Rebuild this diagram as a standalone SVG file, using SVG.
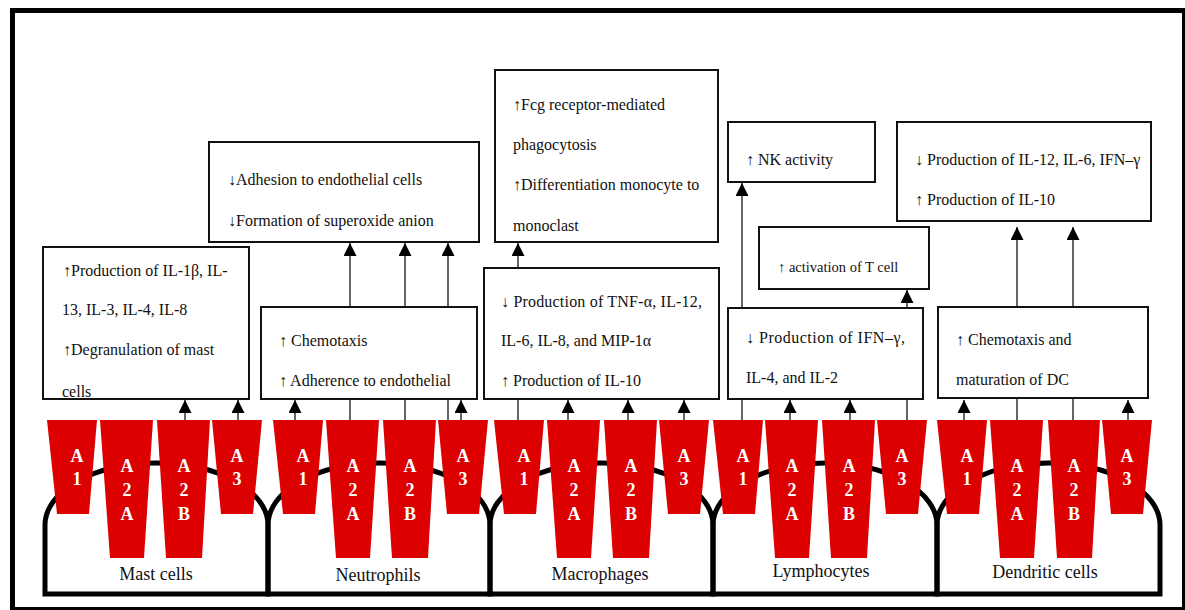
<svg xmlns="http://www.w3.org/2000/svg" width="1185" height="610" viewBox="0 0 1185 610">
<style>
.frame{fill:none;stroke:#000;stroke-width:5}
.box{fill:#fff;stroke:#111;stroke-width:2}
.t{font-family:"Liberation Serif","DejaVu Serif",serif;font-size:16px;fill:#111}
.sm{font-size:14.5px}
.r{fill:#DC0000}
.rl{font-family:"Liberation Serif","DejaVu Serif",serif;font-size:18px;font-weight:bold;fill:#fff;text-anchor:middle}
.cell{fill:none;stroke:#000;stroke-width:5;stroke-linejoin:miter}
.lbl{font-family:"Liberation Serif","DejaVu Serif",serif;font-size:18px;fill:#111;text-anchor:middle}
.c{stroke:#333;stroke-width:1.5;fill:none}
.ca{marker-end:url(#ah)}
</style>
<defs>
<marker id="ah" markerUnits="userSpaceOnUse" markerWidth="14" markerHeight="14" refX="13" refY="6.5" orient="auto"><path d="M0,0 L13,6.5 L0,13 z" fill="#000"/></marker>
</defs>
<rect class="frame" x="12.5" y="10.5" width="1172" height="599"/>

<g id="connectors">
<path class="c ca" d="M185 420 V400"/>
<path class="c ca" d="M238 420 V400"/>
<path class="c ca" d="M295 420 V400"/>
<path class="c ca" d="M350 420 V399 M350 307 V243"/>
<path class="c ca" d="M405 420 V399 M405 307 V243"/>
<path class="c ca" d="M448 420 V399 M448 307 V243"/>
<path class="c ca" d="M461 420 V400"/>
<path class="c ca" d="M518 420 V399 M518 268 V243"/>
<path class="c ca" d="M568 420 V400"/>
<path class="c ca" d="M628 420 V400"/>
<path class="c ca" d="M684 420 V400"/>
<path class="c ca" d="M742 420 V399 M742 308 V183"/>
<path class="c ca" d="M790 420 V400"/>
<path class="c ca" d="M850 420 V400"/>
<path class="c ca" d="M907 420 V399 M907 308 V290"/>
<path class="c ca" d="M964 420 V400"/>
<path class="c ca" d="M1017 420 V399 M1017 307 V227"/>
<path class="c ca" d="M1073 420 V399 M1073 307 V227"/>
<path class="c ca" d="M1128 420 V400"/>
</g>

<g id="cell-mast">
<path class="cell" d="M45 594 V525 A111.5 62 0 0 1 268 525 V594 Z"/>
<g transform="translate(47 0)">
<polygon class="r" points="0,420 50,420 42,514 10,514"/>
<polygon class="r" points="53,420 106,420 97,558 63,558"/>
<polygon class="r" points="110,420 163,420 155,558 119,558"/>
<polygon class="r" points="165,420 215,420 206,514 174,514"/>
<text class="rl" x="30" y="462">A</text><text class="rl" x="30" y="485">1</text>
<text class="rl" x="80" y="472">A</text><text class="rl" x="80" y="496">2</text><text class="rl" x="80" y="520">A</text>
<text class="rl" x="137" y="472">A</text><text class="rl" x="137" y="496">2</text><text class="rl" x="137" y="520">B</text>
<text class="rl" x="190" y="462">A</text><text class="rl" x="190" y="485">3</text>
</g>
<text class="lbl" x="156" y="580">Mast cells</text>
</g>

<g id="cell-neutrophils">
<path class="cell" d="M268 594 V525 A111 62 0 0 1 490 525 V594 Z"/>
<g transform="translate(273 0)">
<polygon class="r" points="0,420 50,420 42,514 10,514"/>
<polygon class="r" points="53,420 106,420 97,558 63,558"/>
<polygon class="r" points="110,420 163,420 155,558 119,558"/>
<polygon class="r" points="165,420 215,420 206,514 174,514"/>
<text class="rl" x="30" y="462">A</text><text class="rl" x="30" y="485">1</text>
<text class="rl" x="80" y="472">A</text><text class="rl" x="80" y="496">2</text><text class="rl" x="80" y="520">A</text>
<text class="rl" x="137" y="472">A</text><text class="rl" x="137" y="496">2</text><text class="rl" x="137" y="520">B</text>
<text class="rl" x="190" y="462">A</text><text class="rl" x="190" y="485">3</text>
</g>
<text class="lbl" x="378" y="581">Neutrophils</text>
</g>

<g id="cell-macrophages">
<path class="cell" d="M490 594 V525 A111.5 62 0 0 1 713 525 V594 Z"/>
<g transform="translate(494 0)">
<polygon class="r" points="0,420 50,420 42,514 10,514"/>
<polygon class="r" points="53,420 106,420 97,558 63,558"/>
<polygon class="r" points="110,420 163,420 155,558 119,558"/>
<polygon class="r" points="165,420 215,420 206,514 174,514"/>
<text class="rl" x="30" y="462">A</text><text class="rl" x="30" y="485">1</text>
<text class="rl" x="80" y="472">A</text><text class="rl" x="80" y="496">2</text><text class="rl" x="80" y="520">A</text>
<text class="rl" x="137" y="472">A</text><text class="rl" x="137" y="496">2</text><text class="rl" x="137" y="520">B</text>
<text class="rl" x="190" y="462">A</text><text class="rl" x="190" y="485">3</text>
</g>
<text class="lbl" x="600" y="580">Macrophages</text>
</g>

<g id="cell-lymphocytes">
<path class="cell" d="M713 594 V525 A112 62 0 0 1 937 525 V594 Z"/>
<g transform="translate(713 0)">
<polygon class="r" points="0,420 50,420 42,514 10,514"/>
<polygon class="r" points="52,420 105,420 96,558 62,558"/>
<polygon class="r" points="109,420 162,420 154,558 118,558"/>
<polygon class="r" points="164,420 214,420 205,514 173,514"/>
<text class="rl" x="30" y="462">A</text><text class="rl" x="30" y="485">1</text>
<text class="rl" x="79" y="472">A</text><text class="rl" x="79" y="496">2</text><text class="rl" x="79" y="520">A</text>
<text class="rl" x="136" y="472">A</text><text class="rl" x="136" y="496">2</text><text class="rl" x="136" y="520">B</text>
<text class="rl" x="189" y="462">A</text><text class="rl" x="189" y="485">3</text>
</g>
<text class="lbl" x="821" y="577">Lymphocytes</text>
</g>

<g id="cell-dendritic">
<path class="cell" d="M937 594 V525 A111.5 62 0 0 1 1160 525 V594 Z"/>
<g transform="translate(937 0)">
<polygon class="r" points="0,420 50,420 42,514 10,514"/>
<polygon class="r" points="53,420 106,420 97,558 63,558"/>
<polygon class="r" points="111,420 163,420 155,558 120,558"/>
<polygon class="r" points="165,420 215,420 206,514 174,514"/>
<text class="rl" x="30" y="462">A</text><text class="rl" x="30" y="485">1</text>
<text class="rl" x="80" y="472">A</text><text class="rl" x="80" y="496">2</text><text class="rl" x="80" y="520">A</text>
<text class="rl" x="137" y="472">A</text><text class="rl" x="137" y="496">2</text><text class="rl" x="137" y="520">B</text>
<text class="rl" x="190" y="462">A</text><text class="rl" x="190" y="485">3</text>
</g>
<text class="lbl" x="1045" y="578">Dendritic cells</text>
</g>

<g id="box-mast">
<rect class="box" x="43" y="247" width="206" height="152"/>
<text class="t" x="63" y="276">↑Production of IL-1β, IL-</text>
<text class="t" x="62" y="315">13, IL-3, IL-4, IL-8</text>
<text class="t" x="63" y="355">↑Degranulation of mast</text>
<text class="t" x="62" y="397">cells</text>
</g>

<g id="box-neutrophil-effects">
<rect class="box" x="209" y="142" width="270" height="100"/>
<text class="t" x="228" y="185">↓Adhesion to endothelial cells</text>
<text class="t" x="228" y="226">↓Formation of superoxide anion</text>
</g>

<g id="box-neutrophil">
<rect class="box" x="261" y="307" width="216" height="92"/>
<text class="t" x="279" y="346">↑ Chemotaxis</text>
<text class="t" x="279" y="386">↑ Adherence to endothelial</text>
</g>

<g id="box-macrophage-effects">
<rect class="box" x="495" y="70" width="223" height="172"/>
<text class="t" x="513" y="110">↑Fcg receptor-mediated</text>
<text class="t" x="513" y="150">phagocytosis</text>
<text class="t" x="513" y="190">↑Differentiation monocyte to</text>
<text class="t" x="513" y="231">monoclast</text>
</g>

<g id="box-macrophage">
<rect class="box" x="484" y="268" width="235" height="131"/>
<text class="t" x="501" y="307" textLength="201" lengthAdjust="spacing">↓ Production of TNF-α, IL-12,</text>
<text class="t" x="501" y="346">IL-6, IL-8, and MIP-1α</text>
<text class="t" x="501" y="386">↑ Production of IL-10</text>
</g>

<g id="box-nk">
<rect class="box" x="728" y="122" width="147" height="60"/>
<text class="t" x="746" y="165">↑ NK activity</text>
</g>

<g id="box-tcell">
<rect class="box" x="759" y="227" width="170" height="62"/>
<text class="t sm" x="778" y="272">↑ activation of T cell</text>
</g>

<g id="box-lymphocyte">
<rect class="box" x="728" y="308" width="195" height="91"/>
<text class="t" x="746" y="343" textLength="159" lengthAdjust="spacing">↓ Production of IFN–γ,</text>
<text class="t" x="746" y="383">IL-4, and IL-2</text>
</g>

<g id="box-dendritic-effects">
<rect class="box" x="897" y="122" width="254" height="99"/>
<text class="t" x="915" y="165">↓ Production of IL-12, IL-6, IFN–γ</text>
<text class="t" x="915" y="205">↑ Production of IL-10</text>
</g>

<g id="box-dendritic">
<rect class="box" x="938" y="307" width="210" height="91"/>
<text class="t" x="956" y="345">↑ Chemotaxis and</text>
<text class="t" x="956" y="385">maturation of DC</text>
</g>
</svg>
